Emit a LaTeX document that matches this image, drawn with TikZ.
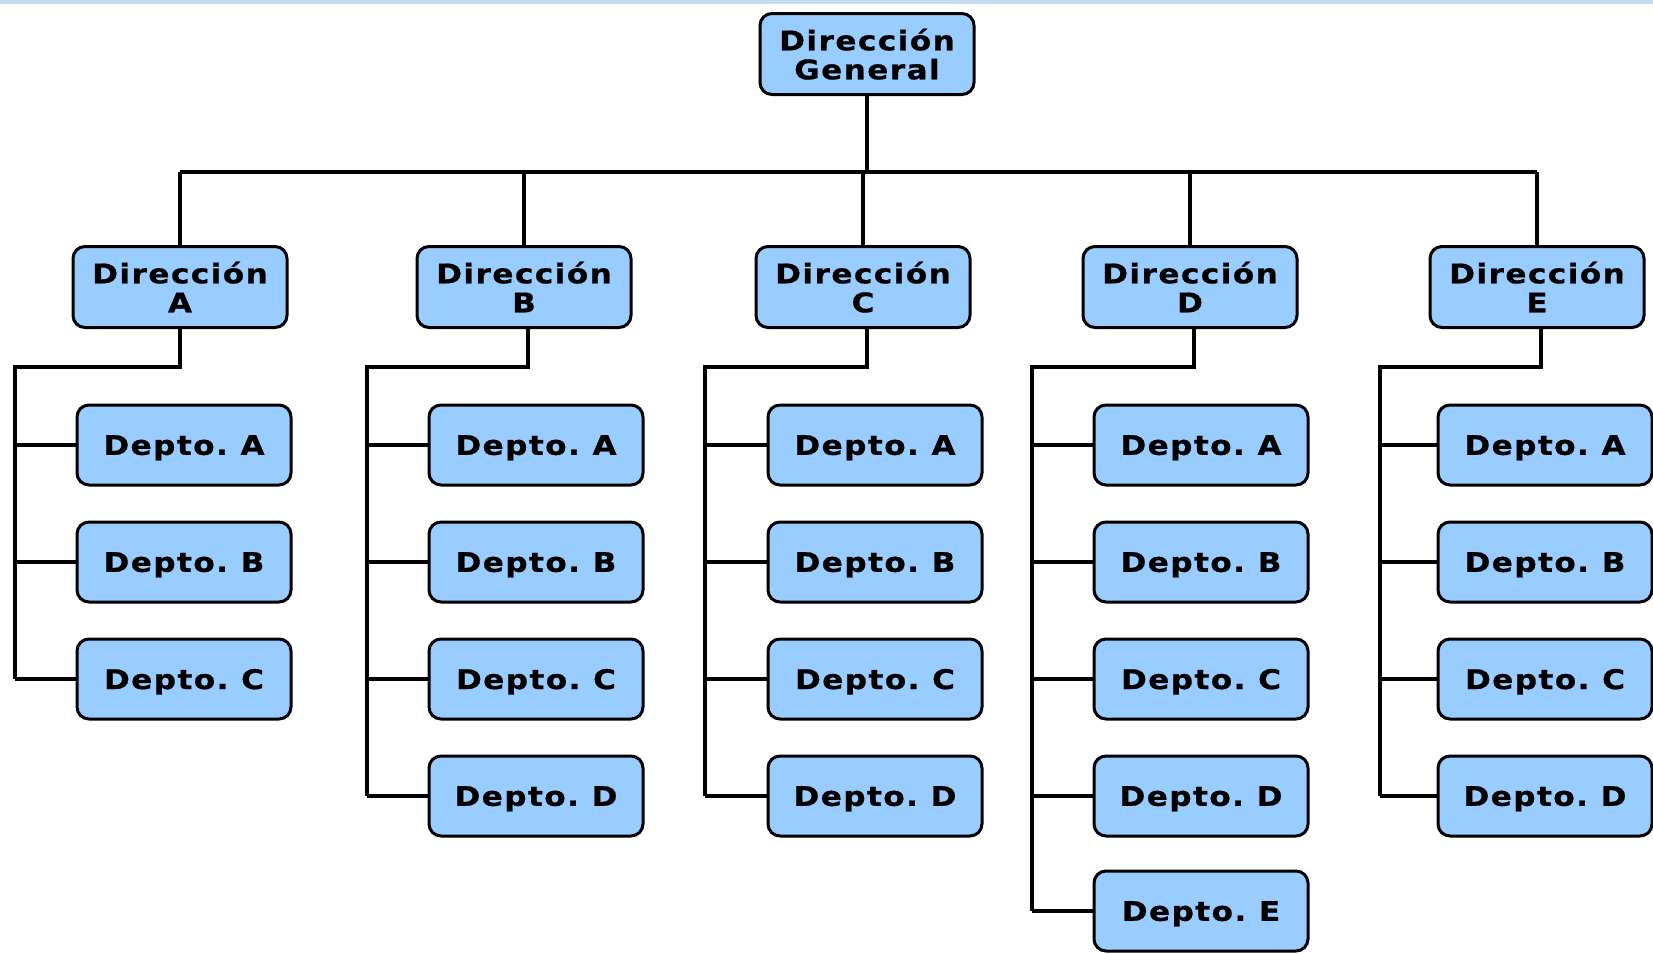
\documentclass[tikz,border=0pt]{standalone}
\usepackage{fontspec}
\newfontfamily\boxfont{DejaVu Sans}[LetterSpace=5.5,FakeStretch=1.15,WordSpace=0.7,FakeBold=0.8]
\definecolor{caja}{RGB}{153,204,255}
\definecolor{barra}{RGB}{197,218,242}
\tikzset{
    RB1/.style ={rectangle,rounded corners=12pt,minimum width = 214pt, minimum height = 81pt, draw, line width=3pt, fill=caja, align=center, inner sep=0pt, text depth=0pt, font={\boxfont\bfseries\fontsize{27}{29}\selectfont}},
    RB2/.style ={RB1, minimum height = 80pt},
    LN/.style ={line width=3.3pt}}
\begin{document}
\begin{tikzpicture}[x=1pt,y=-1pt]
    \useasboundingbox (0,0) rectangle (1653,953);
    \fill[barra] (0,0) rectangle (1653,4);
    % direcciones
    \node[RB1] (gen) at (867,54) {Dirección\\General};
    \node[RB1] (dirA) at (180,287) {Dirección\\A};
    \node[RB1] (dirB) at (524,287) {Dirección\\B};
    \node[RB1] (dirC) at (863,287) {Dirección\\C};
    \node[RB1] (dirD) at (1190,287) {Dirección\\D};
    \node[RB1] (dirE) at (1537,287) {Dirección\\E};
    % departamentos
    \foreach \n/\l/\y in {1/A/445,2/B/562,3/C/679}
        \node[RB2] (a\n) at (184,\y) {Depto. \l};
    \foreach \n/\l/\y in {1/A/445,2/B/562,3/C/679,4/D/796}
        \node[RB2] (b\n) at (536,\y) {Depto. \l};
    \foreach \n/\l/\y in {1/A/445,2/B/562,3/C/679,4/D/796}
        \node[RB2] (c\n) at (875,\y) {Depto. \l};
    \foreach \n/\l/\y in {1/A/445,2/B/562,3/C/679,4/D/796,5/E/911}
        \node[RB2] (d\n) at (1201,\y) {Depto. \l};
    \foreach \n/\l/\y in {1/A/445,2/B/562,3/C/679,4/D/796}
        \node[RB2] (e\n) at (1545,\y) {Depto. \l};
    % lineas
    \coordinate (bus) at (0,172);
    \draw[LN] (gen.south) -- (gen.south |- bus);
    \draw[LN] (dirA.north |- bus) -- (dirE.north |- bus);
    \foreach \d in {A,B,C,D,E}
        \draw[LN] (dir\d.north) -- (dir\d.north |- bus);
    \foreach \d/\c/\x/\k/\o in {A/a/15/3/0,B/b/367/4/4,C/c/705/4/4,D/d/1032/5/4,E/e/1380/4/4}{
        \coordinate (sp\c) at (\x,367);
        \draw[LN] ([xshift=\o pt]dir\d.south) |- (sp\c) -- (sp\c |- \c\k.west);
        \foreach \n in {1,...,\k}
            \draw[LN] (\c\n.west) -- (\c\n.west -| sp\c);
    }
\end{tikzpicture}
\end{document}
